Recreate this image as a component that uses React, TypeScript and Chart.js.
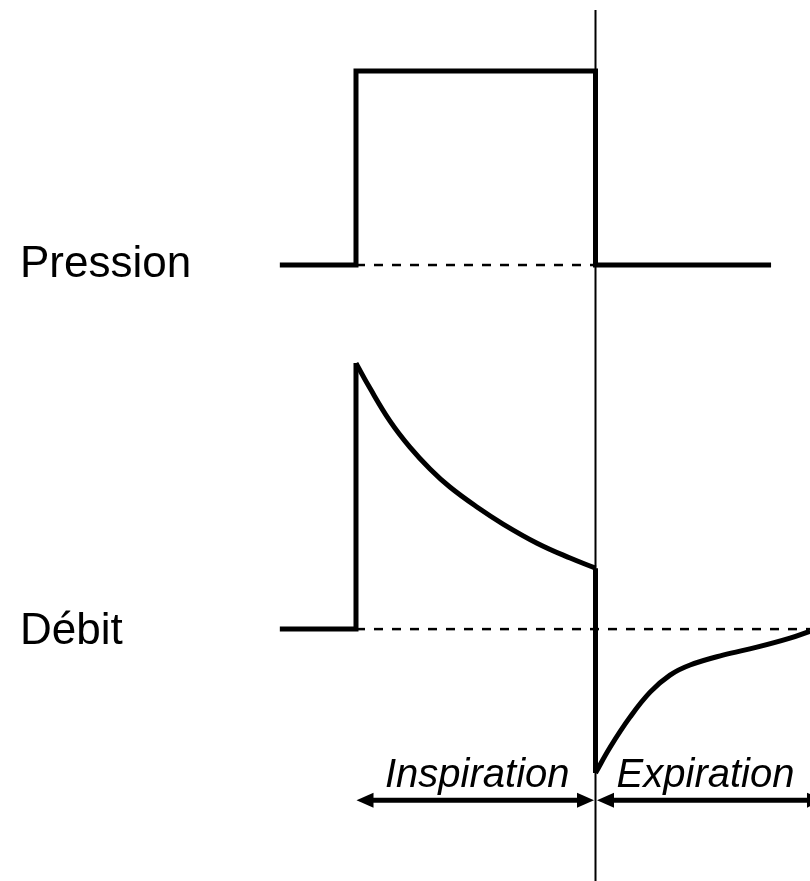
import { useEffect, useRef } from "react";
import { Chart, registerables } from "chart.js";

Chart.register(...registerables);

// ---- data (time in units of inspiratory duration; pressure & flow normalised) ----
const traceLabels = ["Pression", "Débit"];
const phaseLabels = ["Inspiration", "Expiration"];
const phaseStart = [0, 1];
const phaseEnd = [1, 1.954];

const pressureTime = [-0.318, 0, 0, 1, 1, 1.733];
const pressureValues = [0, 0, 1, 1, 0, 0];

const flowStepTime = [-0.318, 0, 0];
const flowStepValues = [0, 0, 1];

const flowInspTime = [0, 0.058, 0.142, 0.225, 0.309, 0.392, 0.505, 0.614, 0.756, 0.894, 1.0];
const flowInspValues = [1.0, 0.906, 0.782, 0.684, 0.602, 0.534, 0.459, 0.395, 0.323, 0.267, 0.229];

const flowDropTime = [1, 1];
const flowDropValues = [0.229, -0.541];

const flowExpTime = [1.0, 1.061, 1.144, 1.228, 1.311, 1.395, 1.532, 1.674, 1.812, 1.896];
const flowExpValues = [-0.541, -0.444, -0.331, -0.237, -0.173, -0.135, -0.098, -0.068, -0.034, -0.008];

const pressureRefTime = [0, 1];
const pressureRefValues = [0, 0];
const flowRefTime = [0, 1.896];
const flowRefValues = [0, 0];

const dividerTime = [1, 1];
const dividerPressure = [1.314, -3.2];

const ARROW_FLOW_LEVEL = -0.643;

const zip = (xs: number[], ys: number[]) => xs.map((x, i) => ({ x, y: ys[i] }));

const FONT = '"Liberation Sans", Arial, Helvetica, sans-serif';

const annotations = {
  id: "annotations",
  afterDatasetsDraw(chart: any) {
    const ctx = chart.ctx as CanvasRenderingContext2D;
    const xs = chart.scales.x;
    const yP = chart.scales.yP;
    const yF = chart.scales.yF;
    ctx.save();
    ctx.fillStyle = "#000";
    ctx.strokeStyle = "#000";
    ctx.textAlign = "left";
    ctx.textBaseline = "alphabetic";
    ctx.font = `44px ${FONT}`;
    ctx.fillText(traceLabels[0], 20, yP.getPixelForValue(0) + 12);
    ctx.fillText(traceLabels[1], 20, yF.getPixelForValue(0) + 15);

    const ay = yF.getPixelForValue(ARROW_FLOW_LEVEL);
    const headLen = 17;
    const headHalf = 7.5;
    ctx.font = `italic 40px ${FONT}`;
    ctx.textAlign = "center";
    phaseLabels.forEach((name, i) => {
      const x0 = xs.getPixelForValue(phaseStart[i]) + (i === 0 ? 0.5 : 1.5);
      const x1 = xs.getPixelForValue(phaseEnd[i]) - (i === 0 ? 1.5 : 0);
      ctx.lineWidth = 5;
      ctx.beginPath();
      ctx.moveTo(x0 + headLen - 2, ay);
      ctx.lineTo(x1 - headLen + 2, ay);
      ctx.stroke();
      ctx.beginPath();
      ctx.moveTo(x0, ay);
      ctx.lineTo(x0 + headLen, ay - headHalf);
      ctx.lineTo(x0 + headLen, ay + headHalf);
      ctx.closePath();
      ctx.fill();
      ctx.beginPath();
      ctx.moveTo(x1, ay);
      ctx.lineTo(x1 - headLen, ay - headHalf);
      ctx.lineTo(x1 - headLen, ay + headHalf);
      ctx.closePath();
      ctx.fill();
      const visRight = Math.min(x1, chart.chartArea.right);
      const cx = (x0 + visRight) / 2 + 2;
      ctx.fillText(name, cx, ay - 13);
    });
    ctx.restore();
  },
};

export default function App() {
  const ref = useRef<HTMLCanvasElement | null>(null);
  useEffect(() => {
    document.body.style.margin = "0";
    const canvas = ref.current;
    if (!canvas) return;
    const solid = {
      borderColor: "#000",
      borderWidth: 5,
      pointRadius: 0,
      showLine: true,
      fill: false,
      borderJoinStyle: "miter" as const,
      borderCapStyle: "butt" as const,
    };
    const chart = new Chart(canvas, {
      type: "scatter",
      data: {
        datasets: [
          { ...solid, label: "Pression", data: zip(pressureTime, pressureValues), yAxisID: "yP", tension: 0 },
          { ...solid, label: "Débit (palier)", data: zip(flowStepTime, flowStepValues), yAxisID: "yF", tension: 0 },
          {
            ...solid,
            label: "Débit inspiratoire",
            data: zip(flowInspTime, flowInspValues),
            yAxisID: "yF",
            tension: 0.4,
            borderJoinStyle: "round",
          },
          { ...solid, label: "Débit (chute)", data: zip(flowDropTime, flowDropValues), yAxisID: "yF", tension: 0 },
          {
            ...solid,
            label: "Débit expiratoire",
            data: zip(flowExpTime, flowExpValues),
            yAxisID: "yF",
            tension: 0.4,
            borderJoinStyle: "round",
          },
          {
            ...solid,
            label: "Référence pression",
            data: zip(pressureRefTime, pressureRefValues),
            yAxisID: "yP",
            borderWidth: 2.5,
            borderDash: [9, 9],
          },
          {
            ...solid,
            label: "Référence débit",
            data: zip(flowRefTime, flowRefValues),
            yAxisID: "yF",
            borderWidth: 2.5,
            borderDash: [9, 9],
          },
          {
            ...solid,
            label: "Fin d'inspiration",
            data: zip(dividerTime, dividerPressure),
            yAxisID: "yP",
            borderWidth: 2,
          },
        ],
      },
      options: {
        responsive: false,
        animation: false,
        events: [],
        layout: { padding: 0 },
        plugins: { legend: { display: false }, tooltip: { enabled: false }, title: { display: false } },
        scales: {
          x: { type: "linear", min: -1.4864, max: 1.8956, display: false },
          yP: { type: "linear", position: "left", min: -3.175, max: 1.366, display: false },
          yF: { type: "linear", position: "right", min: -0.947, max: 2.365, display: false },
        },
      },
      plugins: [annotations],
    });
    return () => chart.destroy();
  }, []);
  return (
    <div style={{ position: "absolute", left: 0, top: 0, width: 810, height: 881, background: "#fff" }}>
      <canvas ref={ref} width={810} height={881} style={{ display: "block" }} />
    </div>
  );
}
